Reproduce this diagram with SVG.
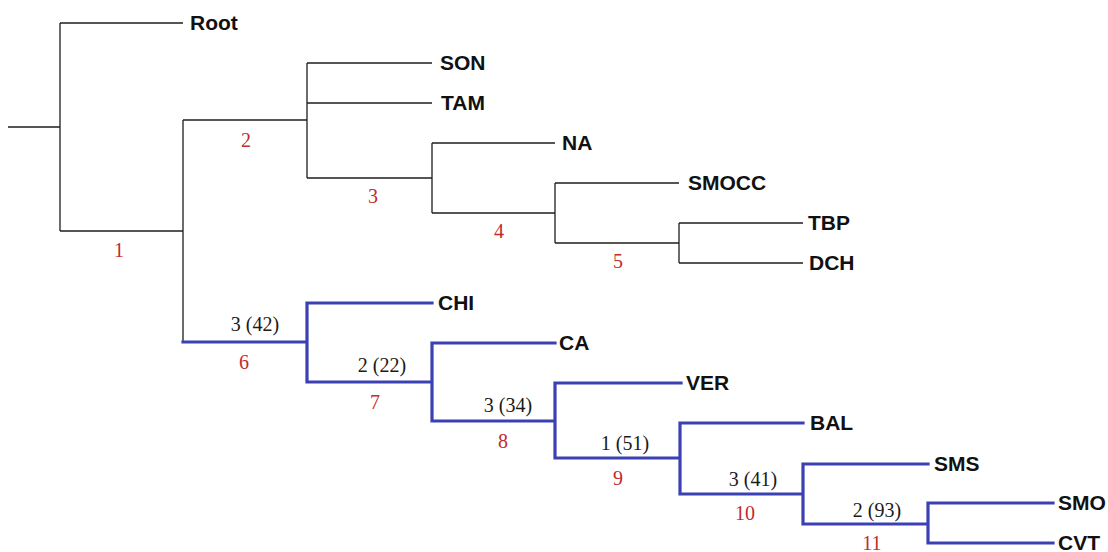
<svg xmlns="http://www.w3.org/2000/svg" width="1108" height="552" viewBox="0 0 1108 552">
<style>
.bk{fill:none;stroke:#1e1e1e;stroke-width:1.3}
.bl{fill:none;stroke:#3b40b2;stroke-width:3.2;stroke-linejoin:miter;stroke-linecap:square}
.leaf{font-family:"Liberation Sans",Arial,sans-serif;font-weight:bold;font-size:21px;fill:#111}
.num{font-family:"Liberation Serif","Times New Roman",serif;font-size:20px;fill:#c22a30;text-anchor:middle}
.sup{font-family:"Liberation Serif","Times New Roman",serif;font-size:20px;fill:#1a1a1a;text-anchor:middle}
</style>
<rect width="1108" height="552" fill="#fff"/>
<g id="connectors">
<path class="bk" d="M8,127 H60 M60,23 V231 M60,23 H183 M60,231 H183 M183,120 V342 M183,120 H307 M307,63 V178 M307,63 H432 M307,103 H432 M307,178 H432 M432,143 V213 M432,143 H555 M432,213 H555 M555,183 V243 M555,183 H679 M555,243 H679 M679,223 V263 M679,223 H803 M679,263 H803"/>
<path class="bl" d="M183,342 H307 M432,303 H307 V382 H432 M555,343 H432 V421 H555 M681,383 H555 V458 H680 M803,423 H680 V494 H803 M928,464 H803 V524 H928 M1053,503 H928 V543 H1053"/>
</g>
<g id="leaf-Root"><text class="leaf" x="190" y="30">Root</text></g>
<g id="leaf-SON"><text class="leaf" x="440" y="70">SON</text></g>
<g id="leaf-TAM"><text class="leaf" x="441" y="110">TAM</text></g>
<g id="leaf-NA"><text class="leaf" x="562" y="150">NA</text></g>
<g id="leaf-SMOCC"><text class="leaf" x="688" y="190">SMOCC</text></g>
<g id="leaf-TBP"><text class="leaf" x="808" y="230">TBP</text></g>
<g id="leaf-DCH"><text class="leaf" x="809" y="270">DCH</text></g>
<g id="leaf-CHI"><text class="leaf" x="438" y="310">CHI</text></g>
<g id="leaf-CA"><text class="leaf" x="559" y="350">CA</text></g>
<g id="leaf-VER"><text class="leaf" x="686" y="390">VER</text></g>
<g id="leaf-BAL"><text class="leaf" x="810" y="430">BAL</text></g>
<g id="leaf-SMS"><text class="leaf" x="934" y="471">SMS</text></g>
<g id="leaf-SMO"><text class="leaf" x="1058" y="510">SMO</text></g>
<g id="leaf-CVT"><text class="leaf" x="1058" y="550">CVT</text></g>
<g id="node-1"><text class="num" x="119" y="257">1</text></g>
<g id="node-2"><text class="num" x="246" y="147">2</text></g>
<g id="node-3"><text class="num" x="373" y="203">3</text></g>
<g id="node-4"><text class="num" x="499" y="238">4</text></g>
<g id="node-5"><text class="num" x="618" y="268">5</text></g>
<g id="node-6"><text class="sup" x="255" y="331">3 (42)</text><text class="num" x="244" y="369">6</text></g>
<g id="node-7"><text class="sup" x="382" y="372">2 (22)</text><text class="num" x="375" y="409">7</text></g>
<g id="node-8"><text class="sup" x="508" y="412">3 (34)</text><text class="num" x="503" y="448">8</text></g>
<g id="node-9"><text class="sup" x="625" y="450">1 (51)</text><text class="num" x="618" y="485">9</text></g>
<g id="node-10"><text class="sup" x="753" y="486">3 (41)</text><text class="num" x="745" y="520">10</text></g>
<g id="node-11"><text class="sup" x="877" y="517">2 (93)</text><text class="num" x="872" y="550">11</text></g>
</svg>
